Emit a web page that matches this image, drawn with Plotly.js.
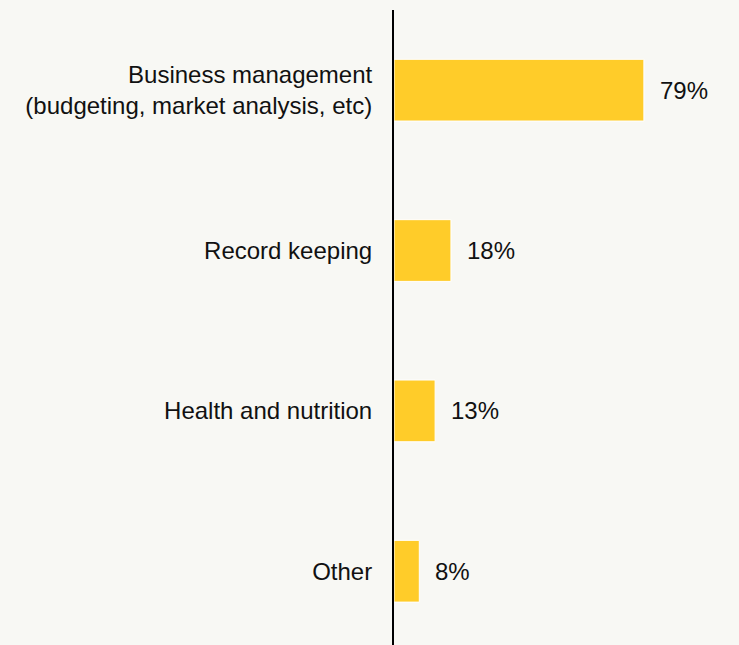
<!DOCTYPE html>
<html>
<head>
<meta charset="utf-8">
<script src="https://cdn.plot.ly/plotly-3.0.1.min.js"></script>
<style>html,body{margin:0;padding:0;background:#f8f8f4;}#chart{width:739px;height:645px;}</style>
</head>
<body>
<div id="chart"></div>
<script>
const categories = ["Business management<br>(budgeting, market analysis, etc)", "Record keeping", "Health and nutrition", "Other"];
const values = [79, 18, 13, 8];
const valueLabels = values.map(v => v + "%");

const font = {family: "Liberation Sans, Arial, sans-serif", size: 24, color: "#111111"};

const trace = {
  type: "bar",
  orientation: "h",
  x: values,
  y: categories,
  width: 0.385,
  marker: {color: "#FFCC29", line: {color: "#ffffff", width: 1}},
  hoverinfo: "none"
};

const annotations = values.map((v, i) => ({
  x: v, y: categories[i], xref: "x", yref: "y",
  text: valueLabels[i], showarrow: false,
  xanchor: "left", yanchor: "middle", xshift: 14,
  font: font
}));

const layout = {
  width: 739, height: 645,
  margin: {l: 394, r: 29, t: 10, b: 0},
  paper_bgcolor: "#f8f8f4",
  plot_bgcolor: "#f8f8f4",
  showlegend: false,
  font: font,
  xaxis: {range: [0, 99.9], showgrid: false, zeroline: false, showticklabels: false, showline: false, fixedrange: true},
  yaxis: {
    type: "category",
    range: [3.46, -0.5],
    showgrid: false, zeroline: false,
    showline: true, linecolor: "#000000", linewidth: 2,
    ticks: "outside", ticklen: 15, tickcolor: "rgba(0,0,0,0)",
    tickfont: font
  },
  annotations: annotations
};

Plotly.newPlot("chart", [trace], layout, {displayModeBar: false, staticPlot: true});
</script>
</body>
</html>
